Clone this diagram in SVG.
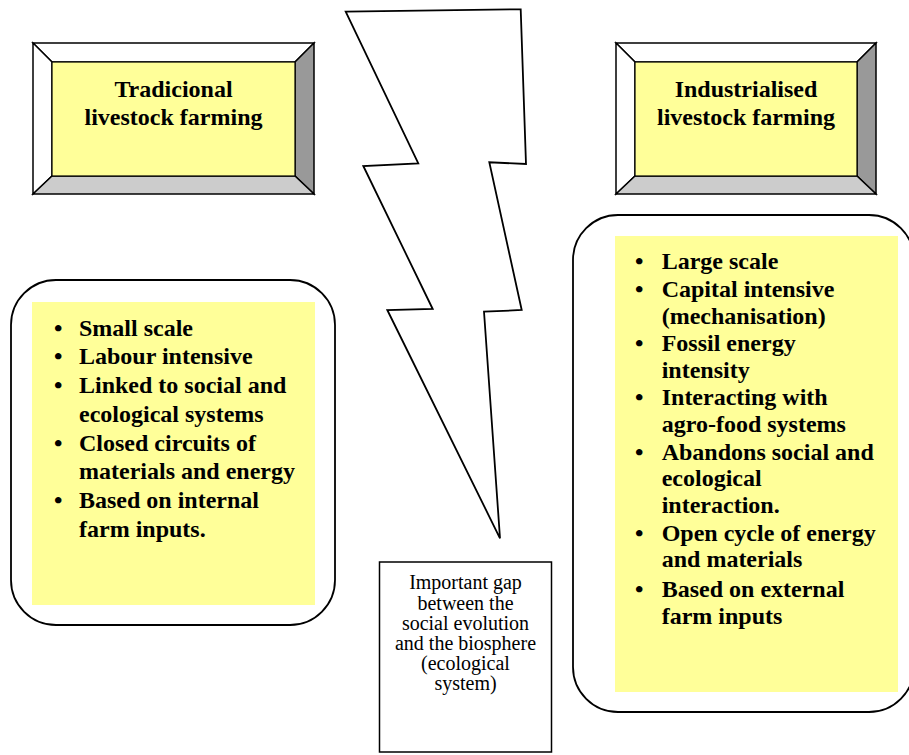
<svg xmlns="http://www.w3.org/2000/svg" width="909" height="755" viewBox="0 0 909 755">
  <style>
    .bevel-top { fill: #ffffff; stroke: #000; stroke-width: 1.5; stroke-linejoin: miter; }
    .bevel-left { fill: #ffffff; stroke: #000; stroke-width: 1.5; }
    .bevel-right { fill: #999999; stroke: #000; stroke-width: 1.5; }
    .bevel-bottom { fill: #cccccc; stroke: #000; stroke-width: 1.5; }
    .face { fill: #ffff99; stroke: #000; stroke-width: 1.2; }
    .panel { fill: #ffffff; stroke: #000; stroke-width: 1.8; }
    .note { fill: #ffff99; }
    .title { font-family: "Liberation Serif", "Times New Roman", serif; font-weight: bold; font-size: 24px; fill: #000; text-anchor: middle; }
    .item { font-family: "Liberation Serif", "Times New Roman", serif; font-weight: bold; font-size: 24px; fill: #000; }
    .caption { font-family: "Liberation Serif", "Times New Roman", serif; font-size: 20px; fill: #000; text-anchor: middle; }
    .bolt { fill: #ffffff; stroke: #000; stroke-width: 1.8; stroke-linejoin: miter; }
    .box { fill: #ffffff; stroke: #000; stroke-width: 1.5; }
  </style>

  <!-- Lightning bolt separating the two farming models -->
  <g id="gap-bolt">
    <polygon class="bolt" points="345.7,11.7 520.7,9.3 526,164 489.3,162.3 521.7,310 484,311.7 500,538.3 387.3,310 432.7,309 363.3,166 418.3,163.3"/>
  </g>

  <!-- Left title: bevelled plate -->
  <g id="traditional-title">
    <polygon class="bevel-top" points="33,43 314,43 295,62 52,62"/>
    <polygon class="bevel-left" points="33,43 52,62 52,176 33,194"/>
    <polygon class="bevel-right" points="314,43 314,194 295,176 295,62"/>
    <polygon class="bevel-bottom" points="33,194 52,176 295,176 314,194"/>
    <rect class="face" x="52" y="62" width="243" height="114"/>
    <text class="title" x="173.5" y="97">Tradicional</text>
    <text class="title" x="173.5" y="124.5">livestock farming</text>
  </g>

  <!-- Right title: bevelled plate -->
  <g id="industrial-title">
    <polygon class="bevel-top" points="616,43 876,43 857,62 635,62"/>
    <polygon class="bevel-left" points="616,43 635,62 635,176 616,194"/>
    <polygon class="bevel-right" points="876,43 876,194 857,176 857,62"/>
    <polygon class="bevel-bottom" points="616,194 635,176 857,176 876,194"/>
    <rect class="face" x="635" y="62" width="222" height="114"/>
    <text class="title" x="746" y="97">Industrialised</text>
    <text class="title" x="746" y="124.5">livestock farming</text>
  </g>

  <!-- Left list: traits of traditional farming -->
  <g id="traditional-traits">
    <rect class="panel" x="11" y="280" width="324" height="345" rx="45" ry="45"/>
    <rect class="note" x="32" y="302" width="283" height="303"/>
    <text class="item" x="54" y="335.7">•</text>
    <text class="item" x="79" y="335.7">Small scale</text>
    <text class="item" x="54" y="364.4">•</text>
    <text class="item" x="79" y="364.4">Labour intensive</text>
    <text class="item" x="54" y="393.1">•</text>
    <text class="item" x="79" y="393.1">Linked to social and</text>
    <text class="item" x="79" y="421.8">ecological systems</text>
    <text class="item" x="54" y="450.5">•</text>
    <text class="item" x="79" y="450.5">Closed circuits of</text>
    <text class="item" x="79" y="479.2">materials and energy</text>
    <text class="item" x="54" y="507.9">•</text>
    <text class="item" x="79" y="507.9">Based on internal</text>
    <text class="item" x="79" y="536.6">farm inputs.</text>
  </g>

  <!-- Right list: traits of industrialised farming -->
  <g id="industrial-traits">
    <rect class="panel" x="573" y="215" width="341" height="497" rx="45" ry="45"/>
    <rect class="note" x="615" y="236" width="283" height="456"/>
    <text class="item" x="635" y="269.3">•</text>
    <text class="item" x="661.7" y="269.3">Large scale</text>
    <text class="item" x="635" y="297">•</text>
    <text class="item" x="661.7" y="297">Capital intensive</text>
    <text class="item" x="661.7" y="323.6">(mechanisation)</text>
    <text class="item" x="635" y="350.8">•</text>
    <text class="item" x="661.7" y="350.8">Fossil energy</text>
    <text class="item" x="661.7" y="377.6">intensity</text>
    <text class="item" x="635" y="405">•</text>
    <text class="item" x="661.7" y="405">Interacting with</text>
    <text class="item" x="661.7" y="431.8">agro-food systems</text>
    <text class="item" x="635" y="459.8">•</text>
    <text class="item" x="661.7" y="459.8">Abandons social and</text>
    <text class="item" x="661.7" y="486.2">ecological</text>
    <text class="item" x="661.7" y="512.8">interaction.</text>
    <text class="item" x="635" y="540.8">•</text>
    <text class="item" x="661.7" y="540.8">Open cycle of energy</text>
    <text class="item" x="661.7" y="567">and materials</text>
    <text class="item" x="635" y="597">•</text>
    <text class="item" x="661.7" y="597">Based on external</text>
    <text class="item" x="661.7" y="624.3">farm inputs</text>
  </g>

  <!-- Caption box under the bolt -->
  <g id="gap-caption">
    <rect class="box" x="379.5" y="562" width="172" height="190"/>
    <text class="caption" x="465.5" y="589.3">Important gap</text>
    <text class="caption" x="465.5" y="610">between the</text>
    <text class="caption" x="465.5" y="630">social evolution</text>
    <text class="caption" x="465.5" y="650">and the biosphere</text>
    <text class="caption" x="465.5" y="670">(ecological</text>
    <text class="caption" x="465.5" y="690">system)</text>
  </g>
</svg>
